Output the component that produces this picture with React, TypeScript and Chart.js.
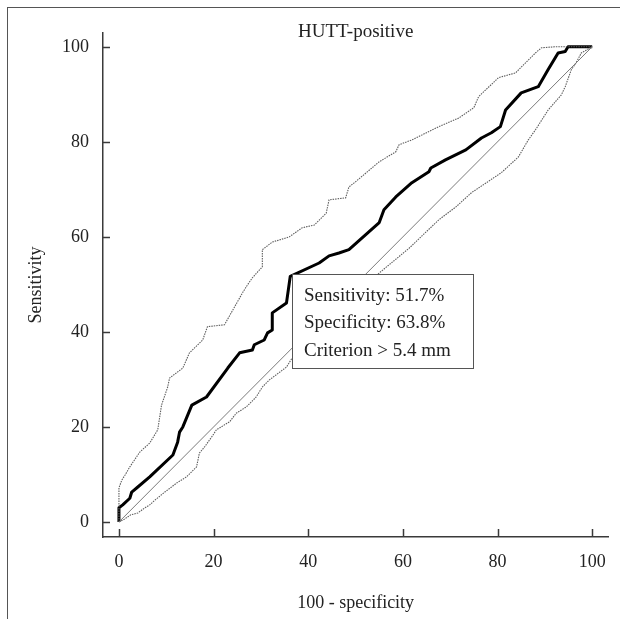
import React, { useEffect, useRef } from "react";
import { Chart, registerables } from "chart.js";

Chart.register(...registerables);

// ROC curve (100 - specificity, sensitivity)
const rocFpr = [0, 0, 0.8, 2.3, 2.7, 3.8, 6.5, 11.4, 12.4, 12.8, 13.5, 15.4, 18.5, 23, 25.5, 28.2, 28.6, 30.7, 31.4, 32.4, 32.4, 35.4, 36.2, 42.3, 44.4, 46.5, 48.6, 55, 56, 58.5, 61.9, 65.5, 65.9, 69, 73.3, 76.6, 78.7, 80.6, 81.7, 85, 88.6, 90.7, 92.8, 94.3, 94.9, 100];
const rocSens = [0, 3, 3.6, 5, 6.3, 7.2, 9.5, 14.1, 16.8, 18.9, 20, 24.6, 26.3, 32.4, 35.6, 36.2, 37.3, 38.3, 39.8, 40.4, 44, 46.1, 51.7, 54.5, 56.0, 56.6, 57.3, 63, 65.7, 68.4, 71.4, 73.7, 74.5, 76.2, 78.3, 80.8, 81.9, 83.2, 86.7, 90.3, 91.6, 95.2, 98.7, 99, 100, 100];

// Upper confidence bound
const upperFpr = [0, 0, 0.6, 1.3, 2.3, 4.4, 6.5, 8.2, 9, 10.3, 10.7, 13.5, 14.9, 17.7, 18.7, 22.3, 26.1, 26.9, 28.2, 30.3, 30.3, 32.4, 36, 38.7, 41.3, 43.8, 44.4, 47.9, 48.6, 50, 55, 58.5, 59.2, 61.9, 67.6, 71.8, 75, 76, 80.2, 83.8, 88, 89.3, 92.2, 100];
const upperSens = [0, 7.2, 8.8, 9.9, 11.6, 14.7, 16.6, 19.4, 24.6, 28.4, 30.3, 32.4, 35.6, 38.3, 41.1, 41.5, 48.2, 49.5, 51.4, 53.7, 57.3, 58.9, 60, 61.9, 62.5, 65, 67.8, 68.2, 70.5, 71.6, 75.8, 77.9, 79.4, 80.4, 83.2, 85, 87.2, 89.5, 93.5, 94.5, 98.7, 99.8, 100, 100];

// Lower confidence bound
const lowerFpr = [0, 1, 2.5, 4, 5.5, 6.5, 7.6, 9.7, 12.2, 14.3, 16.4, 17, 18.1, 19.6, 20.6, 23.4, 24.8, 26.9, 29, 30.3, 31.8, 35.4, 36.6, 46, 55, 61.3, 67.6, 71.2, 74.5, 80.8, 84.4, 86.5, 88, 90.7, 93.5, 94.3, 95.6, 96.6, 97.7, 100];
const lowerSens = [0, 0.5, 1.5, 1.9, 3, 3.6, 4.6, 6.3, 8.2, 9.5, 11.6, 14.5, 15.8, 17.9, 19.4, 21.1, 22.9, 24.2, 26.3, 28.4, 29.9, 32.6, 34.5, 43.5, 52.4, 57.6, 63.6, 66.3, 69.3, 73.5, 76.8, 80.4, 82.5, 86.7, 89.9, 91.6, 95.2, 96.6, 98.7, 100];

// Reference diagonal
const diagFpr = [0, 100];
const diagSens = [0, 100];

const tickValues = [0, 20, 40, 60, 80, 100];
const titleText = "HUTT-positive";
const xAxisTitle = "100 - specificity";
const yAxisTitle = "Sensitivity";
const boxLines = ["Sensitivity: 51.7%", "Specificity: 63.8%", "Criterion > 5.4 mm"];
const cutoffFpr = 36.2;
const cutoffSens = 51.7;

const FONT = '"Liberation Serif", "Times New Roman", serif';
const AXIS_COLOR = "#3a3a3a";

const toPoints = (xs: number[], ys: number[]) => xs.map((x, i) => ({ x, y: ys[i] }));

const overlayPlugin = {
  id: "overlay",
  afterDatasetsDraw(chart: any) {
    const { ctx, chartArea, scales } = chart;
    const xs = scales.x;
    const ys = scales.y;
    ctx.save();
    // inner tick marks
    ctx.strokeStyle = AXIS_COLOR;
    ctx.lineWidth = 1.5;
    tickValues.forEach((v) => {
      const px = Math.round(xs.getPixelForValue(v)) + 0.5;
      ctx.beginPath();
      ctx.moveTo(px, chartArea.bottom);
      ctx.lineTo(px, chartArea.bottom - 8);
      ctx.stroke();
      const py = Math.round(ys.getPixelForValue(v)) + 0.5;
      ctx.beginPath();
      ctx.moveTo(chartArea.left, py);
      ctx.lineTo(chartArea.left + 7, py);
      ctx.stroke();
    });
    // annotation box
    const bx = Math.round(xs.getPixelForValue(cutoffFpr)) + 2;
    const by = Math.round(ys.getPixelForValue(cutoffSens)) - 2;
    const bw = 181;
    const bh = 94;
    ctx.fillStyle = "#ffffff";
    ctx.fillRect(bx, by, bw, bh);
    ctx.strokeStyle = "#555555";
    ctx.lineWidth = 1;
    ctx.strokeRect(bx + 0.5, by + 0.5, bw, bh);
    ctx.fillStyle = "#222222";
    ctx.font = `19px ${FONT}`;
    ctx.textAlign = "left";
    ctx.textBaseline = "middle";
    const offsets = [22, 49, 77];
    boxLines.forEach((t, i) => ctx.fillText(t, bx + 12, by + offsets[i]));
    // title
    ctx.font = `19px ${FONT}`;
    ctx.textAlign = "center";
    ctx.textBaseline = "alphabetic";
    ctx.fillStyle = "#222222";
    ctx.fillText(titleText, (chartArea.left + chartArea.right) / 2, chartArea.top + 3.5);
    ctx.restore();
  },
};

export default function App() {
  const canvasRef = useRef<HTMLCanvasElement | null>(null);

  useEffect(() => {
    if (!canvasRef.current) return;
    const tickFont = { family: FONT, size: 18 };
    const chart = new Chart(canvasRef.current, {
      type: "scatter",
      data: {
        datasets: [
          {
            data: toPoints(diagFpr, diagSens),
            showLine: true,
            borderColor: "#7a7a7a",
            borderWidth: 1,
            pointRadius: 0,
          },
          {
            data: toPoints(lowerFpr, lowerSens),
            showLine: true,
            borderColor: "#5e5e5e",
            borderWidth: 1.1,
            borderDash: [1.5, 1],
            pointRadius: 0,
          },
          {
            data: toPoints(upperFpr, upperSens),
            showLine: true,
            borderColor: "#5e5e5e",
            borderWidth: 1.1,
            borderDash: [1.5, 1],
            pointRadius: 0,
          },
          {
            data: toPoints(rocFpr, rocSens),
            showLine: true,
            borderColor: "#000000",
            borderWidth: 3,
            borderJoinStyle: "round",
            pointRadius: 0,
          },
        ],
      },
      options: {
        responsive: false,
        animation: false,
        devicePixelRatio: 1,
        layout: { padding: { top: 25, right: 10, left: 0, bottom: 0 } },
        plugins: {
          legend: { display: false },
          tooltip: { enabled: false },
          title: { display: false },
        },
        scales: {
          x: {
            type: "linear",
            min: -3.37,
            max: 103.4,
            afterBuildTicks: (s: any) => {
              s.ticks = tickValues.map((v) => ({ value: v }));
            },
            afterFit: (s: any) => {
              s.height = 82;
            },
            grid: { display: false, drawTicks: false },
            border: { display: true, color: AXIS_COLOR, width: 1.5 },
            ticks: { font: tickFont, color: "#222", padding: 14, maxRotation: 0 },
            title: {
              display: true,
              text: xAxisTitle,
              font: tickFont,
              color: "#222",
              padding: { top: 0, bottom: 5 },
            },
          },
          y: {
            type: "linear",
            min: -3.16,
            max: 102.9,
            afterBuildTicks: (s: any) => {
              s.ticks = tickValues.map((v) => ({ value: v }));
            },
            afterFit: (s: any) => {
              s.width = 95;
            },
            grid: { display: false, drawTicks: false },
            border: { display: true, color: AXIS_COLOR, width: 1.5 },
            ticks: { font: tickFont, color: "#222", padding: 14 },
            title: {
              display: true,
              text: yAxisTitle,
              font: tickFont,
              color: "#222",
              padding: { top: 17, bottom: 0 },
            },
          },
        },
      },
      plugins: [overlayPlugin],
    } as any);
    return () => chart.destroy();
  }, []);

  return (
    <div
      style={{
        position: "fixed",
        left: 7,
        top: 7,
        width: 612,
        height: 611,
        borderLeft: "1px solid #555",
        borderTop: "1px solid #555",
        background: "#fff",
        overflow: "hidden",
      }}
    >
      <canvas ref={canvasRef} width={612} height={611} style={{ display: "block" }} />
    </div>
  );
}
